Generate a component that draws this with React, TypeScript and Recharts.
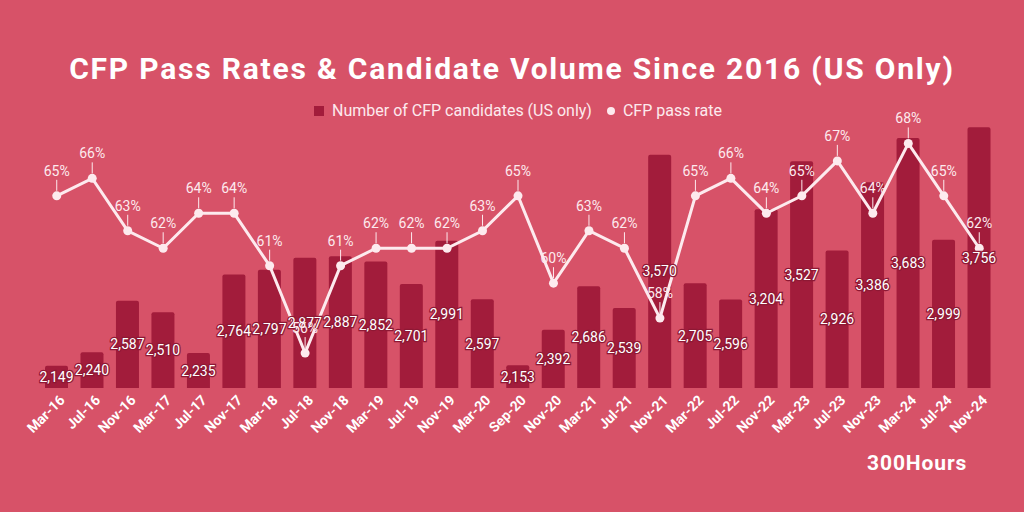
import React from 'react'
import {
  Bar,
  ComposedChart,
  LabelList,
  Legend,
  Line,
  XAxis,
  YAxis
} from 'recharts'

const sessions = [
  'Mar-16', 'Jul-16', 'Nov-16', 'Mar-17', 'Jul-17', 'Nov-17', 'Mar-18', 'Jul-18', 'Nov-18',
  'Mar-19', 'Jul-19', 'Nov-19', 'Mar-20', 'Sep-20', 'Nov-20', 'Mar-21', 'Jul-21', 'Nov-21',
  'Mar-22', 'Jul-22', 'Nov-22', 'Mar-23', 'Jul-23', 'Nov-23', 'Mar-24', 'Jul-24', 'Nov-24'
]

const candidates = [
  2149, 2240, 2587, 2510, 2235, 2764, 2797, 2877, 2887,
  2852, 2701, 2991, 2597, 2153, 2392, 2686, 2539, 3570,
  2705, 2596, 3204, 3527, 2926, 3386, 3683, 2999, 3756
]

const passRates = [
  65, 66, 63, 62, 64, 64, 61, 56, 61,
  62, 62, 62, 63, 65, 60, 63, 62, 58,
  65, 66, 64, 65, 67, 64, 68, 65, 62
]

const legendItems = [
  { label: 'Number of CFP candidates (US only)', shape: 'square' },
  { label: 'CFP pass rate', shape: 'circle' }
]

const data = sessions.map((session, i) => ({
  session,
  candidates: candidates[i],
  rate: passRates[i]
}))

const BG = '#d75268'
const BAR = '#a21c3b'
const LINE = '#fdeaee'
const FONT = 'Roboto, sans-serif'

function RateLabel(props: any) {
  const { x, y, value } = props
  return (
    <g>
      <line x1={x} x2={x} y1={y - 5} y2={y - 16} stroke={LINE} strokeWidth={1} />
      <text x={x} y={y - 20} textAnchor="middle" fill={LINE} fontSize={14} fontFamily={FONT}>
        {value}%
      </text>
    </g>
  )
}

function SessionTick(props: any) {
  const { x, y, payload } = props
  const ax = x + 9
  const ay = y + 5
  return (
    <text
      x={ax}
      y={ay}
      textAnchor="end"
      transform={`rotate(-45 ${ax} ${ay})`}
      fill="#ffffff"
      fontSize={14}
      fontWeight={700}
      fontFamily={FONT}
    >
      {payload.value}
    </text>
  )
}

function LegendRow() {
  return (
    <div style={{ display: 'flex', justifyContent: 'center', alignItems: 'center', gap: 15, fontFamily: FONT }}>
      {legendItems.map((item) => (
        <div key={item.label} style={{ display: 'flex', alignItems: 'center', gap: 8 }}>
          <span
            style={{
              display: 'inline-block',
              width: item.shape === 'square' ? 10 : 8,
              height: item.shape === 'square' ? 10 : 8,
              borderRadius: item.shape === 'circle' ? '50%' : 0,
              background: item.shape === 'square' ? BAR : LINE
            }}
          />
          <span style={{ color: LINE, fontSize: 16 }}>{item.label}</span>
        </div>
      ))}
    </div>
  )
}

export default function App() {
  return (
    <div style={{ position: 'absolute', left: 0, top: 0, width: 1024, height: 512, background: BG, fontFamily: FONT }}>
      <div
        style={{
          position: 'absolute',
          top: 51,
          width: 1024,
          textAlign: 'center',
          color: '#ffffff',
          fontSize: 30,
          letterSpacing: 1.8,
          fontWeight: 700,
          fontFamily: FONT
        }}
      >
        CFP Pass Rates &amp; Candidate Volume Since 2016 (US Only)
      </div>
      <div
        style={{
          position: 'absolute',
          left: 867,
          top: 451,
          color: '#ffffff',
          fontSize: 21,
          letterSpacing: 0.9,
          fontWeight: 700,
          fontFamily: FONT
        }}
      >
        300Hours
      </div>
      <ComposedChart
        width={1024}
        height={512}
        data={data}
        margin={{ top: 66, right: 27, bottom: 64, left: 39 }}
        style={{ position: 'absolute', left: 0, top: 0 }}
      >
        <XAxis
          dataKey="session"
          axisLine={false}
          tickLine={false}
          interval={0}
          height={60}
          tick={<SessionTick />}
        />
        <YAxis yAxisId="count" hide domain={[2000, 4000]} />
        <YAxis yAxisId="rate" hide orientation="right" domain={[54, 71]} />
        <Legend
          verticalAlign="top"
          height={25}
          wrapperStyle={{ top: 101 }}
          content={<LegendRow />}
        />
        <Bar
          yAxisId="count"
          dataKey="candidates"
          name="Number of CFP candidates (US only)"
          fill={BAR}
          barSize={23}
          radius={[2, 2, 0, 0]}
          isAnimationActive={false}
        >
          <LabelList
            dataKey="candidates"
            position="center"
            formatter={(v: number) => v.toLocaleString('en-US')}
            fill="#ffffff"
            stroke="#8e1834"
            strokeWidth={2.5}
            style={{ paintOrder: 'stroke' }}
            fontSize={14}
            fontFamily={FONT}
          />
        </Bar>
        <Line
          yAxisId="rate"
          dataKey="rate"
          name="CFP pass rate"
          stroke={LINE}
          strokeWidth={3}
          dot={{ r: 4.5, fill: LINE, stroke: LINE, strokeWidth: 0 }}
          isAnimationActive={false}
        >
          <LabelList dataKey="rate" content={<RateLabel />} />
        </Line>
      </ComposedChart>
    </div>
  )
}
